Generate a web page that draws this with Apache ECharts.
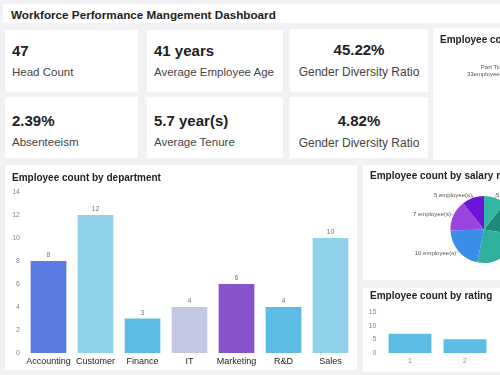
<!DOCTYPE html>
<html>
<head>
<meta charset="utf-8">
<script src="https://cdn.jsdelivr.net/npm/echarts@6/dist/echarts.min.js"></script>
<style>
    body{margin:0;width:500px;height:375px;overflow:hidden;background:#f2f2f4;position:relative;font-family:"Liberation Sans",Arial,sans-serif;}
    .card{position:absolute;background:#fff;overflow:hidden;}
    .val{position:absolute;left:7px;top:11.5px;font-size:15px;font-weight:bold;color:#222;white-space:nowrap;}
    .lab{position:absolute;left:7px;top:35.5px;font-size:11.5px;color:#444;white-space:nowrap;}
    .row2 .val{top:14.5px;}
    .row2 .lab{top:38.5px;}
    .mid .val,.mid .lab{left:0;right:0;text-align:center;}
    .mid .lab{font-size:12px;}
    .chart{position:absolute;}
</style>
</head>
<body>
<div class="card" style="left:3px;top:4px;width:510px;height:19px;">
    <div style="position:absolute;left:8px;top:3.5px;font-size:11.7px;font-weight:bold;color:#222;white-space:nowrap;">Workforce Performance Mangement Dashboard</div>
</div>

<div class="card" style="left:5px;top:30px;width:133px;height:62px;"><div class="val">47</div><div class="lab">Head Count</div></div>
<div class="card" style="left:147px;top:30px;width:136px;height:62px;"><div class="val">41 years</div><div class="lab">Average Employee Age</div></div>
<div class="card mid" style="left:290px;top:29px;width:138px;height:63px;"><div class="val">45.22%</div><div class="lab">Gender Diversity Ratio</div></div>

<div class="card row2" style="left:5px;top:97px;width:133px;height:61px;"><div class="val">2.39%</div><div class="lab">Absenteeism</div></div>
<div class="card row2" style="left:147px;top:97px;width:136px;height:61px;"><div class="val">5.7 year(s)</div><div class="lab">Average Tenure</div></div>
<div class="card mid row2" style="left:290px;top:97px;width:138px;height:61px;"><div class="val">4.82%</div><div class="lab">Gender Diversity Ratio</div></div>

<div class="card" style="left:433px;top:28px;width:100px;height:132px;"></div>
<div class="card" style="left:5px;top:165px;width:352px;height:205px;"></div>
<div class="card" style="left:363px;top:165px;width:150px;height:115px;"></div>
<div class="card" style="left:363px;top:288px;width:150px;height:84px;"></div>

<div id="typeChart" class="chart" style="left:433px;top:28px;width:250px;height:132px;"></div>
<div id="deptChart" class="chart" style="left:5px;top:165px;width:352px;height:205px;"></div>
<div id="salaryChart" class="chart" style="left:363px;top:165px;width:200px;height:115px;"></div>
<div id="ratingChart" class="chart" style="left:363px;top:288px;width:150px;height:84px;"></div>

<script>
    // department bars
    var deptNames = ['Accounting','Customer','Finance','IT','Marketing','R&D','Sales'];
    var deptCounts = [8, 12, 3, 4, 6, 4, 10];
    var deptColors = ['#5a7be4','#8ed2ea','#5dbce6','#c2c7e3','#8752cb','#5dbce6','#8ed2ea'];

    // salary pie (clockwise from top)
    var salaryNames = ['Range A','Range B','Range C','Range D','Range E','Range F'];
    var salaryCounts = [5, 8, 12, 10, 7, 5];
    var salaryColors = ['#33b8a4','#1b8c7c','#2fb09c','#3a8ee8','#9a45e0','#6b14d6'];

    // rating bars
    var ratingNames = ['1','2'];
    var ratingCounts = [7, 5];

    // employment type pie
    var typeNames = ['Full Time','Part Time'];
    var typeCounts = [14, 33];

    var titleStyle = {fontSize: 10, fontWeight: 'bold', color: '#222', fontFamily: 'Liberation Sans'};
    var smallLabel = {fontSize: 7, color: '#888', fontFamily: 'Liberation Sans'};

    function makeTitle(text, top) {
        return {text: text, left: 7, top: top, padding: 0, textStyle: titleStyle};
    }

    var deptChart = echarts.init(document.getElementById('deptChart'));
    deptChart.setOption({
        animation: false,
        title: makeTitle('Employee count by department', 8),
        grid: {left: 20, right: 3, top: 27, bottom: 17},
        xAxis: {
            type: 'category',
            data: deptNames,
            axisLine: {show: false},
            axisTick: {show: false},
            axisLabel: {interval: 0, fontSize: 9, color: '#222', margin: 4, fontFamily: 'Liberation Sans'}
        },
        yAxis: {
            type: 'value', min: 0, max: 14, interval: 2,
            splitLine: {show: false},
            axisLabel: Object.assign({margin: 5}, smallLabel)
        },
        series: [{
            type: 'bar',
            barCategoryGap: '24%',
            data: deptCounts.map(function (v, i) {
                return {value: v, itemStyle: {color: deptColors[i]}};
            }),
            label: {show: true, position: 'top', distance: 2, fontSize: 7, color: '#777'}
        }]
    });

    var salaryChart = echarts.init(document.getElementById('salaryChart'));
    salaryChart.setOption({
        animation: false,
        title: makeTitle('Employee count by salary range', 6),
        color: salaryColors,
        series: [{
            type: 'pie',
            center: [121, 64.5],
            radius: 33.5,
            startAngle: 90,
            data: salaryNames.map(function (n, i) {
                return {name: n, value: salaryCounts[i]};
            }),
            label: {formatter: '{c} employee(s)', fontSize: 6, color: '#555', fontFamily: 'Liberation Sans', distanceToLabelLine: 0},
            labelLine: {length: 3, length2: 0, lineStyle: {width: 0.5}}
        }]
    });

    var ratingChart = echarts.init(document.getElementById('ratingChart'));
    ratingChart.setOption({
        animation: false,
        title: makeTitle('Employee count by rating', 3),
        grid: {left: 19.5, width: 110, top: 24, bottom: 19},
        xAxis: {
            type: 'category',
            data: ratingNames,
            axisLine: {show: false},
            axisTick: {show: false},
            axisLabel: Object.assign({margin: 5}, smallLabel)
        },
        yAxis: {
            type: 'value', min: 0, max: 15, interval: 5,
            splitLine: {show: false},
            axisLabel: Object.assign({margin: 6}, smallLabel)
        },
        series: [{
            type: 'bar',
            barCategoryGap: '22%',
            itemStyle: {color: '#5bbde6'},
            data: ratingCounts
        }]
    });

    var typeChart = echarts.init(document.getElementById('typeChart'));
    typeChart.setOption({
        animation: false,
        title: makeTitle('Employee count by type', 7),
        color: ['#3a8ee8', '#33b8a4'],
        series: [{
            type: 'pie',
            center: [141, 72],
            radius: 40,
            startAngle: 24.5,
            data: typeNames.map(function (n, i) {
                return {name: n, value: typeCounts[i]};
            }),
            label: {formatter: '{b}\n{c}employee(s)', fontSize: 6, lineHeight: 7, color: '#555', fontFamily: 'Liberation Sans'},
            labelLine: {length: 20, length2: 10}
        }]
    });
</script>
</body>
</html>
